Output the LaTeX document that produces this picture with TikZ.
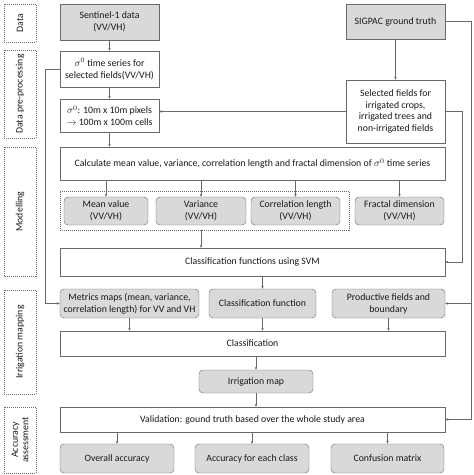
\documentclass[tikz,border=0pt]{standalone}
\usepackage{fontspec}
\setmainfont{Carlito}
\usepackage{amsmath}
\usepackage{xcolor}
\usetikzlibrary{positioning, arrows.meta}
\definecolor{boxgray}{RGB}{217,217,217}
\definecolor{boxline}{RGB}{105,105,105}
\definecolor{textdark}{RGB}{25,25,25}

\tikzset{
  box/.style={draw=boxline, fill=white, align=center, inner sep=1pt,
    text=textdark, font=\fontsize{9.8}{11.8}\selectfont},
  graybox/.style={box, fill=boxgray},
  roundbox/.style={graybox, rounded corners=4pt},
  stagebox/.style={draw=boxline, dash pattern=on 1pt off 1pt, rotate=90,
    align=center, text=textdark, font=\fontsize{9.8}{10.5}\selectfont,
    minimum height=32},
  groupbox/.style={draw=boxline, dash pattern=on 1pt off 1pt},
  flow/.style={-{Stealth[length=3pt,width=2.5pt]}, draw=boxline, line width=0.6pt}
}

\begin{document}
\begin{tikzpicture}[x=1pt,y=-1pt]
\useasboundingbox (0,0) rectangle (474,475);

% Stage labels on the left
\node[stagebox, minimum width=38] (sData) at (20,23) {Data};
\node[stagebox, minimum width=88] (sPre) at (20,94) {Data pre-processing};
\node[stagebox, minimum width=129] (sModel) at (20,211.5) {Modelling};
\node[stagebox, minimum width=104] (sIrr) at (20,342) {Irrigation mapping};
\node[stagebox, minimum width=66] (sAcc) at (20,440) {Accuracy\\assessment};

% Data
\node[graybox, minimum width=99, minimum height=36] (sentinel) at (109.5,22) {Sentinel-1 data\\(VV/VH)};
\node[graybox, minimum width=99, minimum height=35] (sigpac) at (395.5,21.5) {SIGPAC ground truth};

% Data pre-processing
\node[box, minimum width=99, minimum height=36] (sigts) at (109.5,69) {$\sigma^0$ time series for\\selected fields(VV/VH)};
\node[box, minimum width=99, minimum height=33] (sigcells) at (109.5,115.5) {$\sigma^0$: 10m x 10m pixels\\$\rightarrow$ 100m x 100m cells};
\node[box, minimum width=99, minimum height=63] (selected) at (395.5,111.5) {Selected fields for\\irrigated crops,\\irrigated trees and\\non-irrigated fields};

% Modelling
\node[box, minimum width=385, minimum height=33] (calc) at (252.5,163.5) {Calculate mean value, variance, correlation length and fractal dimension of $\sigma^0$ time series};
\node[groupbox, minimum width=289, minimum height=39] (group) at (204.5,210.5) {};
\node[roundbox, minimum width=84, minimum height=28] (mean) at (106,211) {Mean value\\(VV/VH)};
\node[roundbox, minimum width=90, minimum height=28] (variance) at (201,211) {Variance\\(VV/VH)};
\node[roundbox, minimum width=89, minimum height=28] (corr) at (295.5,211) {Correlation length\\(VV/VH)};
\node[roundbox, minimum width=89, minimum height=28] (fractal) at (399.5,211) {Fractal dimension\\(VV/VH)};
\node[box, minimum width=385, minimum height=28] (svm) at (252.5,262) {Classification functions using SVM};

% Irrigation mapping
\node[roundbox, minimum width=139, minimum height=29] (metrics) at (129.5,303.5) {Metrics maps (mean, variance,\\correlation length) for VV and VH};
\node[roundbox, minimum width=107, minimum height=29] (clfun) at (262.5,303.5) {Classification function};
\node[roundbox, minimum width=113, minimum height=29] (productive) at (388.5,303.5) {Productive fields and\\boundary};
\node[box, minimum width=385, minimum height=25] (classif) at (252.5,343.5) {Classification};
\node[roundbox, minimum width=114, minimum height=23] (irrmap) at (256,381.5) {Irrigation map};

% Accuracy assessment
\node[box, minimum width=385, minimum height=25] (valid) at (252.5,419.5) {Validation: gound truth based over the whole study area};
\node[roundbox, minimum width=114, minimum height=29] (overall) at (117,458.5) {Overall accuracy};
\node[roundbox, minimum width=114, minimum height=29] (acceach) at (252,458.5) {Accuracy for each class};
\node[roundbox, minimum width=113, minimum height=29] (confusion) at (387.5,458.5) {Confusion matrix};

% Main chain
\draw[flow] (sentinel) -- (sigts);
\draw[flow] (sigts) -- (sigcells);
\draw[flow] (sigcells) -- (sigcells |- calc.north);
\draw[flow] (sigpac) -- (selected);
\draw[flow] (selected.west) -- (selected.west -| sigcells.east);

% Calculate to the four metrics
\foreach \m in {mean, variance, corr, fractal}
  \draw[flow] (\m |- calc.south) -- (\m.north);
\draw[flow] (variance |- group.south) -- (variance |- svm.north);

% Side lines
\draw[flow] (sigts.west) -- ++(-15,0) |- (metrics.west);
\draw[flow] (selected.east) -- ++(17,0) |- (svm.east);
\draw[flow] (sigpac.east) -- ++(26,0) coordinate (rail) |- (valid.east);
\draw[flow] (rail |- productive.east) -- (productive.east);

% Irrigation mapping
\draw[flow] (clfun |- svm.south) -- (clfun.north);
\foreach \m in {metrics, clfun, productive}
  \draw[flow] (\m.south) -- (\m |- classif.north);
\draw[flow] (irrmap |- classif.south) -- (irrmap.north);
\draw[flow] (irrmap.south) -- (irrmap |- valid.north);

% Accuracy assessment
\foreach \m in {overall, acceach, confusion}
  \draw[flow] (\m |- valid.south) -- (\m.north);

\end{tikzpicture}
\end{document}
